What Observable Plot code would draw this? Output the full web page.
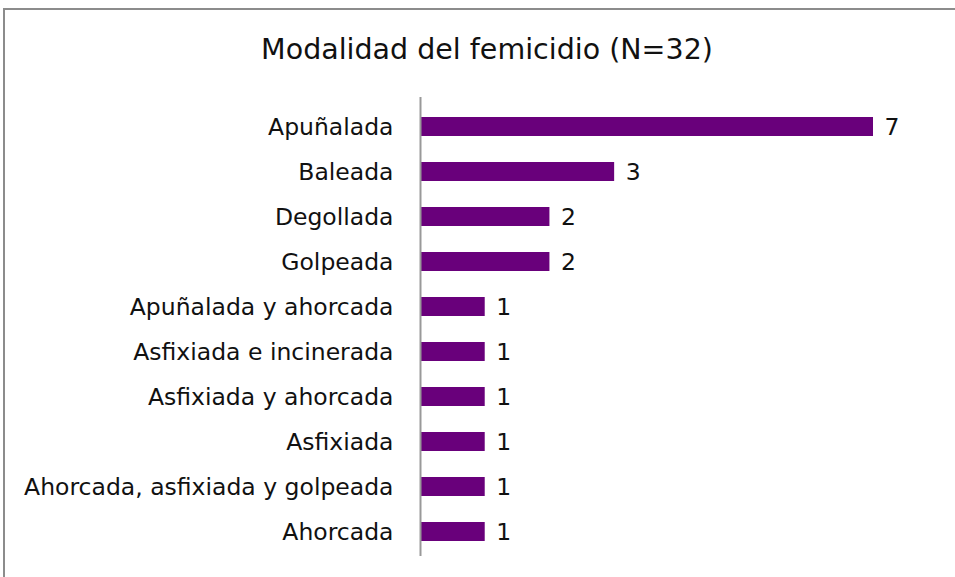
<!DOCTYPE html>
<html>
<head>
<meta charset="utf-8">
<script src="https://cdn.jsdelivr.net/npm/d3@7"></script>
<script src="https://cdn.jsdelivr.net/npm/@observablehq/plot@0.6"></script>
<style>
  html, body { margin: 0; padding: 0; background: #fff; overflow: hidden; width: 955px; height: 577px; }
  #frame { position: absolute; left: 3px; top: 8px; width: 1000px; height: 1000px; border: 2px solid #8c8c8c; box-sizing: border-box; pointer-events: none; }
  #wrap { position: absolute; left: 0; top: 0; width: 955px; height: 577px; }
  #title { height: 97px; box-sizing: border-box; padding-top: 32px; text-align: center; font-family: "DejaVu Sans", sans-serif; font-size: 28.5px; line-height: 36px; color: #111; padding-left: 19px; white-space: nowrap; }
</style>
</head>
<body>
<div id="wrap">
  <div id="title">Modalidad del femicidio (N=32)</div>
  <div id="chart"></div>
</div>
<div id="frame"></div>
<script>
const categories = [
  "Apuñalada",
  "Baleada",
  "Degollada",
  "Golpeada",
  "Apuñalada y ahorcada",
  "Asfixiada e incinerada",
  "Asfixiada y ahorcada",
  "Asfixiada",
  "Ahorcada, asfixiada y golpeada",
  "Ahorcada"
];
const counts = [7, 3, 2, 2, 1, 1, 1, 1, 1, 1];

const data = categories.map((c, i) => ({category: c, value: counts[i]}));

const chart = Plot.plot({
  width: 955,
  height: 480,
  marginTop: 0,
  marginBottom: 21,
  marginLeft: 420,
  marginRight: 82,
  style: {fontFamily: "'DejaVu Sans', sans-serif", fontSize: "23.5px", color: "#111", background: "transparent"},
  x: {domain: [0, 7], axis: null},
  y: {domain: categories, paddingInner: 0.583, paddingOuter: 0.329, align: 0.57, label: null},
  marks: [
    Plot.barX(data, {x: "value", y: "category", fill: "#69007b"}),
    Plot.ruleX([0], {stroke: "#999", strokeWidth: 2}),
    Plot.axisY({tickSize: 0, tickPadding: 27, label: null, fontSize: 23.5}),
    Plot.text(data, {x: "value", y: "category", text: d => String(d.value), textAnchor: "start", dx: 11, fontSize: 23.5, fill: "#111"})
  ]
});
document.getElementById("chart").appendChild(chart);
</script>
</body>
</html>
